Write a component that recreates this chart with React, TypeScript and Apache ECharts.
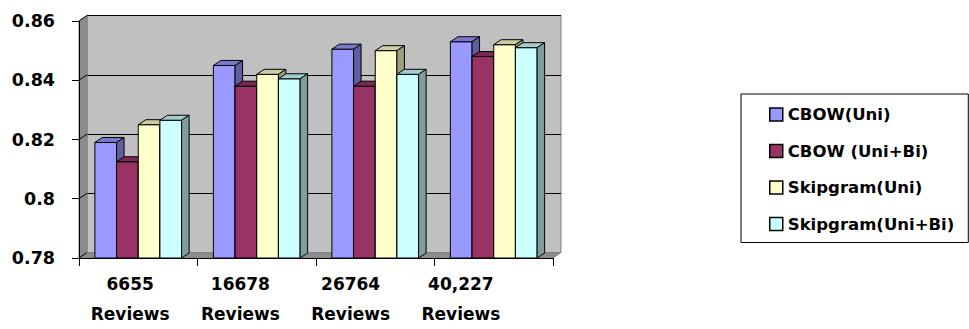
import React, { useEffect, useRef } from "react";
import * as echarts from "echarts";

const categories = ["6655\nReviews", "16678\nReviews", "26764\nReviews", "40,227\nReviews"];
const seriesNames = ["CBOW(Uni)", "CBOW (Uni+Bi)", "Skipgram(Uni)", "Skipgram(Uni+Bi)"];
const cbowUni = [0.819, 0.845, 0.8505, 0.853];
const cbowUniBi = [0.8125, 0.838, 0.838, 0.848];
const skipUni = [0.825, 0.842, 0.850, 0.852];
const skipUniBi = [0.8265, 0.8405, 0.842, 0.851];
const seriesValues = [cbowUni, cbowUniBi, skipUni, skipUniBi];
const seriesColors = ["#9999FF", "#993366", "#FFFFCC", "#CCFFFF"];
const yMin = 0.78;
const yMax = 0.86;
const yStep = 0.02;

const FONT = "DejaVu Sans";
const DX = 7.5;
const DY = -5;
const WDX = 8;
const WDY = -5.5;

function shade(hex: string, f: number): string {
  const n = parseInt(hex.slice(1), 16);
  const r = Math.round(((n >> 16) & 255) * f);
  const g = Math.round(((n >> 8) & 255) * f);
  const b = Math.round((n & 255) * f);
  return "rgb(" + r + "," + g + "," + b + ")";
}

export default function App() {
  const ref = useRef<HTMLDivElement>(null);
  useEffect(() => {
    if (!ref.current) return;
    const chart = echarts.init(ref.current, undefined, { renderer: "svg" });

    const barSeries = seriesNames.map((name, si) => {
      const color = seriesColors[si];
      const topC = shade(color, 0.8);
      const sideC = shade(color, 0.62);
      return {
        type: "custom",
        name,
        xAxisIndex: 1,
        yAxisIndex: 1,
        z: 5 + si,
        clip: false,
        itemStyle: { color },
        encode: { x: 0, y: 1 },
        data: seriesValues[si].map((v, i) => [i, v]),
        renderItem: (params: any, api: any) => {
          const cat = api.value(0);
          const val = api.value(1);
          const top = api.coord([cat, val]);
          const base = api.coord([cat, yMin]);
          const band = api.size([1, 0])[0];
          const bw = band * 0.183;
          const x0 = top[0] - 2 * bw + si * bw;
          const x1 = x0 + bw;
          const yT = top[1];
          const yB = base[1];
          const st = { stroke: "#000", lineWidth: 1 };
          return {
            type: "group",
            children: [
              { type: "rect", shape: { x: x0, y: yT, width: bw, height: yB - yT }, style: { fill: color, ...st } },
              { type: "polygon", shape: { points: [[x0, yT], [x0 + DX, yT + DY], [x1 + DX, yT + DY], [x1, yT]] }, style: { fill: topC, ...st } },
              { type: "polygon", shape: { points: [[x1, yT], [x1 + DX, yT + DY], [x1 + DX, yB + DY], [x1, yB]] }, style: { fill: sideC, ...st } },
            ],
          };
        },
      };
    });

    const tickVals: number[] = [];
    for (let k = 0; k <= Math.round((yMax - yMin) / yStep); k++) tickVals.push(yMin + k * yStep);

    const wallSeries = {
      type: "custom",
      name: "walls",
      xAxisIndex: 1,
      yAxisIndex: 1,
      z: 1,
      silent: true,
      clip: false,
      data: [[0, yMin]],
      renderItem: (params: any, api: any) => {
        const cs = params.coordSys;
        const x = cs.x, y = cs.y, w = cs.width, h = cs.height;
        const children: any[] = [
          { type: "polygon", shape: { points: [[x, y], [x + WDX, y + WDY], [x + WDX, y + h + WDY], [x, y + h]] }, style: { fill: "#8c8c8c", stroke: "#808080", lineWidth: 1 } },
          { type: "polygon", shape: { points: [[x, y + h], [x + WDX, y + h + WDY], [x + w + WDX, y + h + WDY], [x + w, y + h]] }, style: { fill: "#8c8c8c", stroke: "#808080", lineWidth: 1 } },
        ];
        tickVals.forEach((tv) => {
          const p = api.coord([0, tv]);
          children.push({ type: "line", shape: { x1: x, y1: p[1], x2: x + WDX, y2: p[1] + WDY }, style: { stroke: "#000", lineWidth: 1 } });
        });
        return { type: "group", children };
      },
    };

    const labelFont = { fontFamily: FONT, fontWeight: "bold", color: "#000" };

    chart.setOption({
      animation: false,
      backgroundColor: "#fff",
      legend: {
        orient: "vertical",
        left: 741,
        top: 94,
        padding: [12, 14, 10, 28],
        itemGap: 19.5,
        itemWidth: 13,
        itemHeight: 13,
        borderColor: "#000",
        borderWidth: 1,
        textStyle: { ...labelFont, fontSize: 16.5 },
        data: seriesNames.map((n) => ({ name: n, icon: "rect", itemStyle: { borderColor: "#000", borderWidth: 1.5 } })),
      },
      grid: [
        { left: 79 + WDX, top: 21 + WDY, width: 474, height: 237, show: true, backgroundColor: "#c0c0c0", borderColor: "#808080", borderWidth: 1, z: 0 },
        { left: 79, top: 21, width: 474, height: 237 },
        { left: 75, top: 21, width: 441, height: 237 },
      ],
      xAxis: [
        { type: "category", gridIndex: 0, data: categories, show: false },
        {
          type: "category", gridIndex: 1, data: categories, z: 20,
          axisLine: { lineStyle: { color: "#000", width: 1 } },
          axisTick: { show: true, length: 8, alignWithLabel: false, lineStyle: { color: "#000" } },
          axisLabel: { show: false },
        },
        {
          type: "category", gridIndex: 2, data: categories,
          axisLine: { show: false }, axisTick: { show: false },
          axisLabel: { ...labelFont, fontSize: 17, lineHeight: 30, margin: 25, interval: 0 },
        },
      ],
      yAxis: [
        {
          type: "value", gridIndex: 0, min: yMin, max: yMax, interval: yStep,
          axisLabel: { show: false }, axisLine: { show: false }, axisTick: { show: false },
          splitLine: { show: true, lineStyle: { color: "#000", width: 1 } },
        },
        {
          type: "value", gridIndex: 1, min: yMin, max: yMax, interval: yStep, z: 20,
          axisLine: { show: true, lineStyle: { color: "#000", width: 1 } },
          axisTick: { show: true, length: 7, inside: false, lineStyle: { color: "#000" } },
          axisLabel: { ...labelFont, fontSize: 17.5, margin: 24 },
          splitLine: { show: false },
        },
        { type: "value", gridIndex: 2, min: yMin, max: yMax, interval: yStep, show: false },
      ],
      series: [wallSeries, ...barSeries],
    });
    return () => chart.dispose();
  }, []);
  return <div ref={ref} style={{ position: "fixed", left: 0, top: 0, width: 969, height: 329 }} />;
}
